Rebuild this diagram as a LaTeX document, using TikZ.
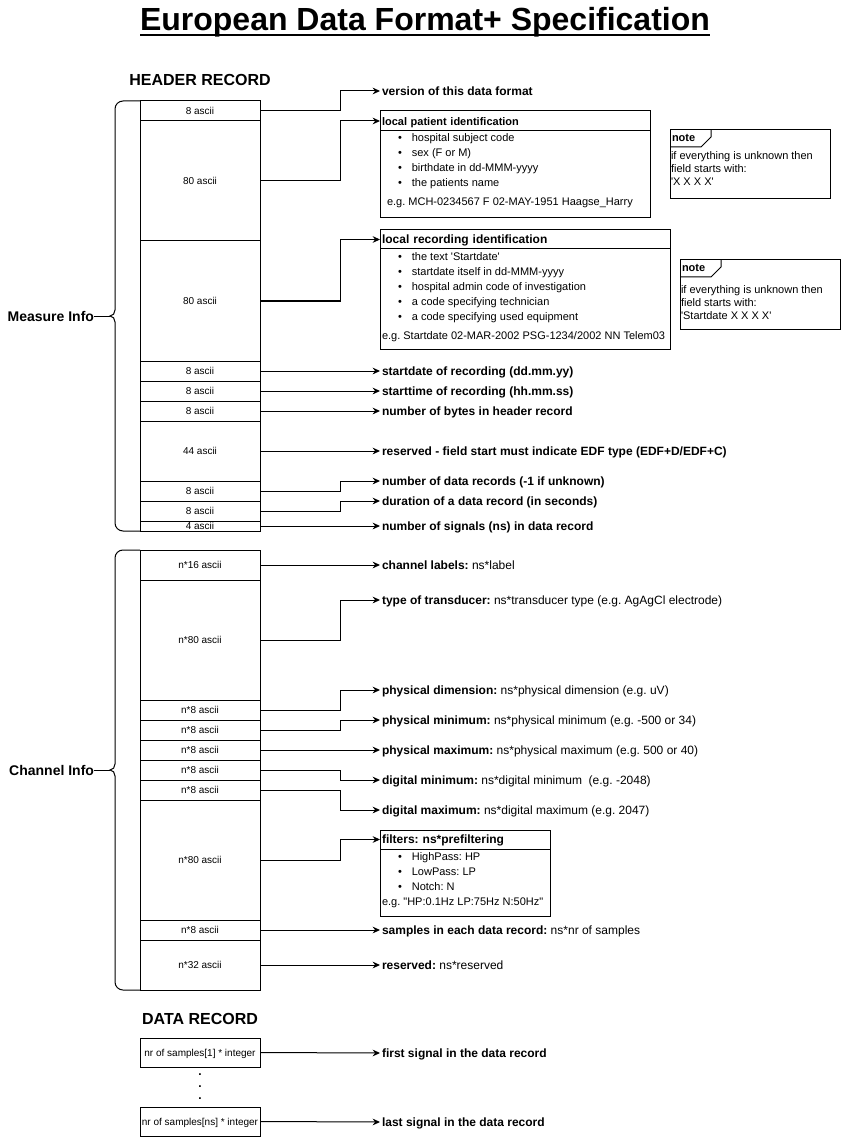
\documentclass[tikz,border=0pt]{standalone}
\usepackage{fontspec}
\setmainfont{Liberation Sans}
\usepackage{tikz}
\usetikzlibrary{positioning,arrows.meta}
\frenchspacing

\tikzset{
  field/.style={draw, anchor=north west, minimum width=90pt, inner sep=0pt,
    font=\fontsize{7.5pt}{9pt}\selectfont, text height=5.4pt, text depth=0pt},
  meaning/.style={anchor=west, inner xsep=1.5pt, inner ysep=0pt,
    font=\fontsize{9pt}{11pt}\selectfont, text height=6.5pt, text depth=0pt},
  boldmeaning/.style={meaning, font=\fontsize{9pt}{11pt}\selectfont\bfseries},
  boxhead/.style={draw, anchor=north west, inner xsep=1.5pt, inner ysep=0pt, align=left,
    text height=6.5pt, text depth=0pt, font=\fontsize{9pt}{11pt}\selectfont\bfseries},
  boxbody/.style={draw, anchor=north west, inner sep=0pt},
  item/.style={anchor=west, inner sep=0pt, font=\fontsize{8.25pt}{10pt}\selectfont,
    text height=5.9pt, text depth=0pt},
  section/.style={anchor=base, inner sep=0pt, font=\fontsize{12pt}{14pt}\selectfont\bfseries},
  side/.style={anchor=east, inner sep=0pt, font=\fontsize{10.5pt}{12pt}\selectfont\bfseries,
    text height=7.5pt, text depth=0pt}
}

\begin{document}
\begin{tikzpicture}[x=0.75pt, y=-0.75pt, line width=0.75pt, >={Stealth[length=5.5pt,width=5pt]},
    every node/.style={outer sep=0pt}]
\useasboundingbox (0,0) rectangle (841,1137);

\node[anchor=base, inner sep=0pt, font=\fontsize{24pt}{28pt}\selectfont\bfseries] (title) at (425,31) {European Data Format+ Specification};
\draw[line width=1.8pt] ([yshift=-3pt]title.base west) -- ([yshift=-3pt]title.base east);

%% header record
\node[section] (hdr) at (200,86) {HEADER RECORD};

\node[field, minimum height=15pt] (b1) at (140,101) {8 ascii};
\node[field, minimum height=90pt, below=0pt of b1] (b2) {80 ascii};
\node[field, minimum height=90pt, below=0pt of b2] (b3) {80 ascii};
\node[field, minimum height=15pt, below=0pt of b3] (b4) {8 ascii};
\node[field, minimum height=15pt, below=0pt of b4] (b5) {8 ascii};
\node[field, minimum height=15pt, below=0pt of b5] (b6) {8 ascii};
\node[field, minimum height=45pt, below=0pt of b6] (b7) {44 ascii};
\node[field, minimum height=15pt, below=0pt of b7] (b8) {8 ascii};
\node[field, minimum height=15pt, below=0pt of b8] (b9) {8 ascii};
\node[field, minimum height=7.5pt, below=0pt of b9] (b10) {4 ascii};

\draw (140,101) -- (123,101) to[out=180,in=90] (115,109) -- (115,310) to[out=-90,in=0] (110,316)
      to[out=0,in=90] (115,322) -- (115,523) to[out=-90,in=180] (123,531) -- (140,531);
\coordinate (mtip) at (110,316);
\node[side] (minfo) at (94,316) {Measure Info};
\draw (minfo.east) -- (mtip);

\node[boldmeaning] (v1) at (380,91) {version of this data format};

% local patient identification
\node[boxhead, text width=199.5pt, minimum height=15pt, font=\fontsize{8.25pt}{10pt}\selectfont\bfseries] (pathead) at (380,111) {local patient identification};
\node[boxbody, minimum width=202.5pt, minimum height=65.25pt] (patbody) at (pathead.south west) {};
\foreach \t [count=\i] in {hospital subject code, sex (F or M), birthdate in dd-MMM-yyyy, the patients name}
  \node[item] (pat\i) at (398,123+15*\i) {\textbullet\hspace{7.5pt}\t};
\node[item] (patex) at (387,202) {e.g. MCH-0234567 F 02-MAY-1951 Haagse\_Harry};

\node[boxbody, minimum width=120pt, minimum height=51.75pt] (note1) at (670,130) {};
\draw (note1.north west) ++(0,17) -- ++(31,0) -- ++(10,-10) -- ++(0,-7);
\node[item, font=\fontsize{8.25pt}{10pt}\selectfont\bfseries] (note1tag) at (672,138) {note};
\foreach \t [count=\i] in {if everything is unknown then, field starts with:, \textquotesingle X X X X\textquotesingle}
  \node[item] (note1l\i) at (671,143+13*\i) {\t};

% local recording identification
\node[boxhead, text width=214.5pt, minimum height=14.25pt] (rechead) at (380,230) {local recording identification};
\node[boxbody, minimum width=217.5pt, minimum height=75pt] (recbody) at (rechead.south west) {};
\foreach \t [count=\i] in {the text \textquotesingle Startdate\textquotesingle, startdate itself in dd-MMM-yyyy,
    hospital admin code of investigation, a code specifying technician, a code specifying used equipment}
  \node[item] (rec\i) at (398,242+15*\i) {\textbullet\hspace{7.5pt}\t};
\node[item] (recex) at (382,336) {e.g. Startdate 02-MAR-2002 PSG-1234/2002 NN Telem03};

\node[boxbody, minimum width=120pt, minimum height=51.75pt] (note2) at (680,260) {};
\draw (note2.north west) ++(0,17) -- ++(31,0) -- ++(10,-10) -- ++(0,-7);
\node[item, font=\fontsize{8.25pt}{10pt}\selectfont\bfseries] (note2tag) at (682,268) {note};
\foreach \t [count=\i] in {if everything is unknown then, field starts with:, \textquotesingle Startdate X X X X\textquotesingle}
  \node[item] (note2l\i) at (681,277+13*\i) {\t};

\node[boldmeaning] (v4) at (380,371) {startdate of recording (dd.mm.yy)};
\node[boldmeaning] (v5) at (380,391) {starttime of recording (hh.mm.ss)};
\node[boldmeaning] (v6) at (380,411) {number of bytes in header record};
\node[boldmeaning] (v7) at (380,451) {reserved - field start must indicate EDF type (EDF+D/EDF+C)};
\node[boldmeaning] (v8) at (380,481) {number of data records (-1 if unknown)};
\node[boldmeaning] (v9) at (380,501) {duration of a data record (in seconds)};
\node[boldmeaning] (v10) at (380,526) {number of signals (ns) in data record};

\draw[->] (b1.east) -- ++(80,0) |- (v1.west);
\draw[->] (b2.east) -- ++(80,0) |- (pathead.west);
\draw[->] (b3.east) -- ++(80,0) |- (rechead.west);
\draw[->] (b4.east) -- (v4.west);
\draw[->] (b5.east) -- (v5.west);
\draw[->] (b6.east) -- (v6.west);
\draw[->] (b7.east) -- (v7.west);
\draw[->] (b8.east) -- ++(80,0) |- (v8.west);
\draw[->] (b9.east) -- ++(80,0) |- (v9.west);
\draw[->] (b10.east) -- (v10.west);

%% channel info
\node[field, minimum height=22.5pt] (c1) at (140,550) {n*16 ascii};
\node[field, minimum height=90pt, below=0pt of c1] (c2) {n*80 ascii};
\node[field, minimum height=15pt, below=0pt of c2] (c3) {n*8 ascii};
\node[field, minimum height=15pt, below=0pt of c3] (c4) {n*8 ascii};
\node[field, minimum height=15pt, below=0pt of c4] (c5) {n*8 ascii};
\node[field, minimum height=15pt, below=0pt of c5] (c6) {n*8 ascii};
\node[field, minimum height=15pt, below=0pt of c6] (c7) {n*8 ascii};
\node[field, minimum height=90pt, below=0pt of c7] (c8) {n*80 ascii};
\node[field, minimum height=15pt, below=0pt of c8] (c9) {n*8 ascii};
\node[field, minimum height=37.5pt, below=0pt of c9] (c10) {n*32 ascii};

\draw (140,550) -- (123,550) to[out=180,in=90] (115,558) -- (115,764) to[out=-90,in=0] (110,770)
      to[out=0,in=90] (115,776) -- (115,982) to[out=-90,in=180] (123,990) -- (140,990);
\coordinate (ctip) at (110,770);
\node[side] (cinfo) at (94,770) {Channel Info};
\draw (cinfo.east) -- (ctip);

\node[meaning] (w1) at (380,565) {\textbf{channel labels:} ns*label};
\node[meaning] (w2) at (380,600) {\textbf{type of transducer:} ns*transducer type (e.g. AgAgCl electrode)};
\node[meaning] (w3) at (380,690) {\textbf{physical dimension:} ns*physical dimension (e.g. uV)};
\node[meaning] (w4) at (380,720) {\textbf{physical minimum:} ns*physical minimum (e.g. -500 or 34)};
\node[meaning] (w5) at (380,750) {\textbf{physical maximum:} ns*physical maximum (e.g. 500 or 40)};
\node[meaning] (w6) at (380,780) {\textbf{digital minimum:} ns*digital minimum\ \ (e.g. -2048)};
\node[meaning] (w7) at (380,810) {\textbf{digital maximum:} ns*digital maximum (e.g. 2047)};
\node[meaning] (w9) at (380,930) {\textbf{samples in each data record:} ns*nr of samples};
\node[meaning] (w10) at (380,965) {\textbf{reserved:} ns*reserved};

% filters
\node[boxhead, text width=124.5pt, minimum height=14.25pt] (filhead) at (380,830) {filters: ns*prefiltering};
\node[boxbody, minimum width=127.5pt, minimum height=50.25pt] (filbody) at (filhead.south west) {};
\foreach \t [count=\i] in {HighPass: HP, LowPass: LP, Notch: N}
  \node[item] (fil\i) at (398,842+15*\i) {\textbullet\hspace{7.5pt}\t};
\node[item] (filex) at (382,902) {e.g. \textquotedbl HP:0.1Hz LP:75Hz N:50Hz\textquotedbl};

\draw[->] (c1.east) -- (w1.west);
\draw[->] (c2.east) -- ++(80,0) |- (w2.west);
\draw[->] (c3.east) -- ++(80,0) |- (w3.west);
\draw[->] (c4.east) -- ++(80,0) |- (w4.west);
\draw[->] (c5.east) -- (w5.west);
\draw[->] (c6.east) -- ++(80,0) |- (w6.west);
\draw[->] (c7.east) -- ++(80,0) |- (w7.west);
\draw[->] (c8.east) -- ++(80,0) |- (filhead.west);
\draw[->] (c9.east) -- (w9.west);
\draw[->] (c10.east) -- (w10.west);

%% data record
\node[section] (dat) at (200,1024) {DATA RECORD};
\node[field, minimum height=21.75pt] (d1) at (140,1038) {nr of samples[1] * integer};
\foreach \i in {0,1,2}
  \node[inner sep=0pt, font=\fontsize{9pt}{11pt}\selectfont\bfseries] (dot\i) at (200,1075+12*\i) {.};
\node[field, minimum height=21.75pt] (d2) at (140,1107) {nr of samples[ns] * integer};

\node[boldmeaning] (u1) at (380,1053) {first signal in the data record};
\node[boldmeaning] (u2) at (380,1122) {last signal in the data record};
\draw[->] (d1.east) -- (u1.west);
\draw[->] (d2.east) -- (u2.west);
\end{tikzpicture}
\end{document}
